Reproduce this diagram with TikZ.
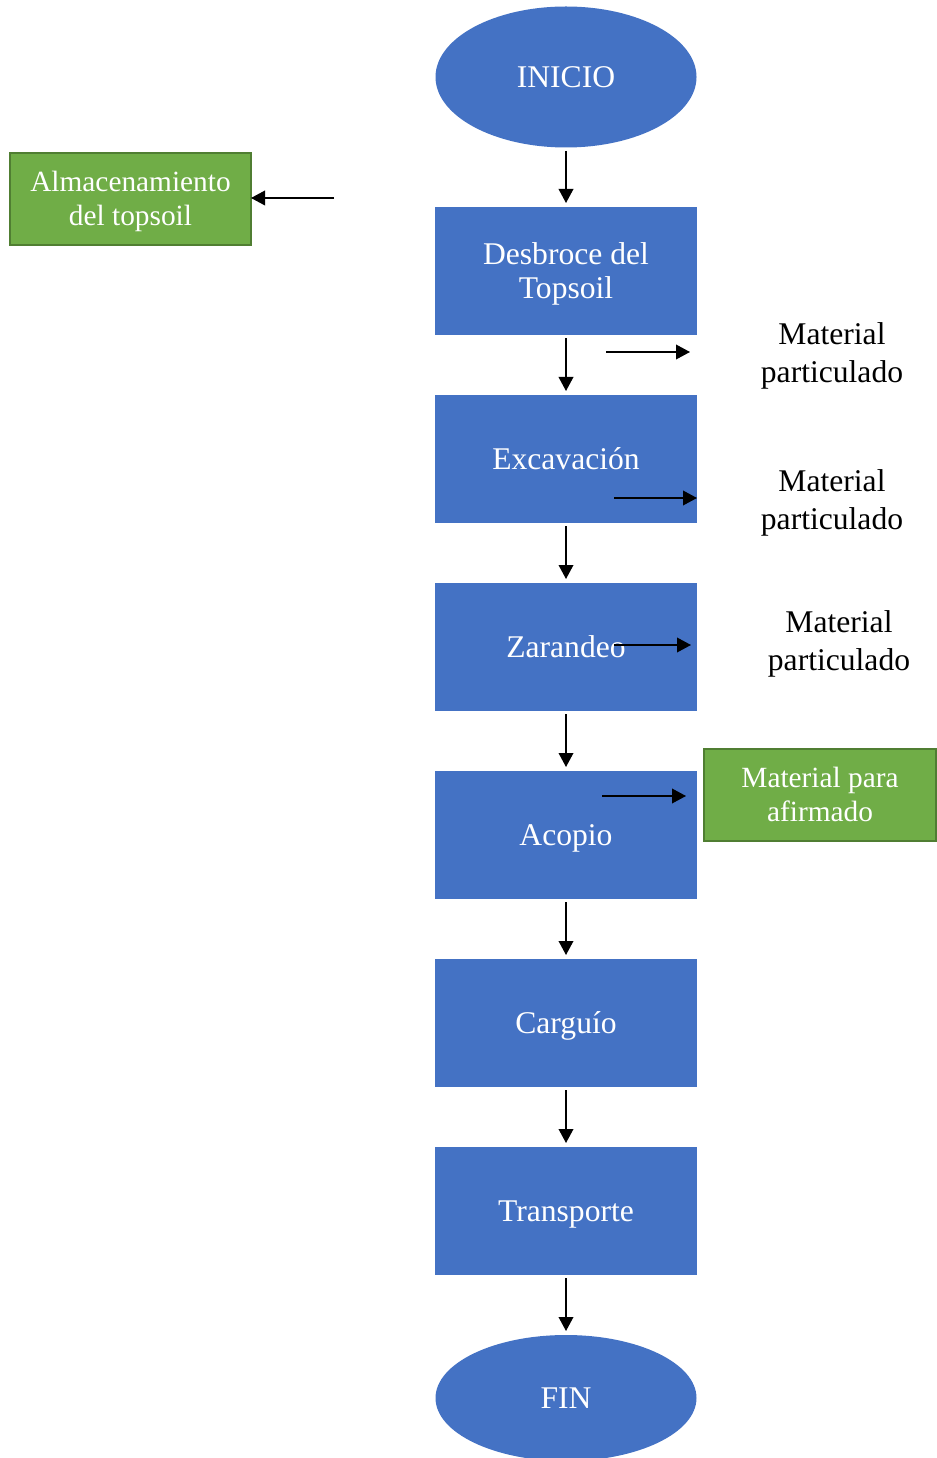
\documentclass[tikz,border=0pt]{standalone}
\usepackage{fontspec}
\setmainfont{Liberation Serif}
\usetikzlibrary{arrows.meta,shapes.geometric}
\definecolor{azul}{HTML}{4472C4}
\definecolor{verde}{HTML}{70AD47}
\definecolor{verdeborde}{HTML}{507E32}
\begin{document}
\begin{tikzpicture}[x=0.75pt,y=-0.75pt,
    etapa/.style = {rectangle,fill=azul,minimum width=196.5pt,minimum height=96pt,inner sep=0pt,outer sep=0pt,text=white,align=center,font=\fontsize{23.7}{25.5}\selectfont,text height=20.9pt,text depth=5.2pt},
    doble/.style = {text height=46.4pt},
    limite/.style = {ellipse,fill=azul,minimum width=195.75pt,inner sep=0pt,outer sep=0pt,text=white,font=\fontsize{23.7}{25.5}\selectfont,text height=20.9pt,text depth=5.2pt},
    salida/.style = {rectangle,fill=verde,draw=verdeborde,line width=1.5pt,inner sep=0pt,outer sep=0pt,minimum height=69pt,text=white,align=center,font=\fontsize{22}{25.5}\selectfont,text height=44.9pt,text depth=4.8pt},
    nota/.style = {align=center,font=\fontsize{23.7}{28.5}\selectfont},
    flecha/.style = {-{Triangle[length=10.5pt,width=11pt]},line width=1.1pt}]
\useasboundingbox (0,0) rectangle (937,1458);
\node[limite,minimum height=105.75pt] (inicio) at (566,77) {INICIO};
\node[etapa,doble] (desbroce) at (566,271) {Desbroce del\\Topsoil};
\foreach \n/\t [count=\j from 1] in {excavacion/Excavación, zarandeo/Zarandeo, acopio/Acopio, carguio/Carguío, transporte/Transporte}
    \node[etapa] (\n) at (566,{271+188*\j}) {\t};
\node[limite,minimum height=94.5pt] (fin) at (566,1398) {FIN};
\foreach \a/\b in {inicio/desbroce, desbroce/excavacion, excavacion/zarandeo, zarandeo/acopio, acopio/carguio, carguio/transporte, transporte/fin}
    \draw[flecha,shorten <=2.5pt,shorten >=3pt] (\a) -- (\b);
% salidas laterales
\node[salida,minimum width=180.75pt] (topsoil) at (130.5,199) {Almacenamiento\\del topsoil};
\node[salida,minimum width=174pt] (afirmado) at (820,795) {Material para\\afirmado};
\node[nota] (polvo1) at (832,356) {Material\\particulado};
\node[nota] (polvo2) at (832,503) {Material\\particulado};
\node[nota] (polvo3) at (839,644) {Material\\particulado};
\coordinate (t0) at (334,198);
\coordinate (p1a) at (606,352);
\coordinate (p1b) at (690,352);
\coordinate (p2a) at (614,498);
\coordinate (p2b) at (697,498);
\coordinate (p3a) at (614,645);
\coordinate (p3b) at (691,645);
\coordinate (a0) at (602,796);
\coordinate (a1) at (686,796);
\draw[flecha] (t0) -- (topsoil.east |- t0);
\draw[flecha] (p1a) -- (p1b);
\draw[flecha] (p2a) -- (p2b);
\draw[flecha] (p3a) -- (p3b);
\draw[flecha] (a0) -- (a1);
\end{tikzpicture}
\end{document}
